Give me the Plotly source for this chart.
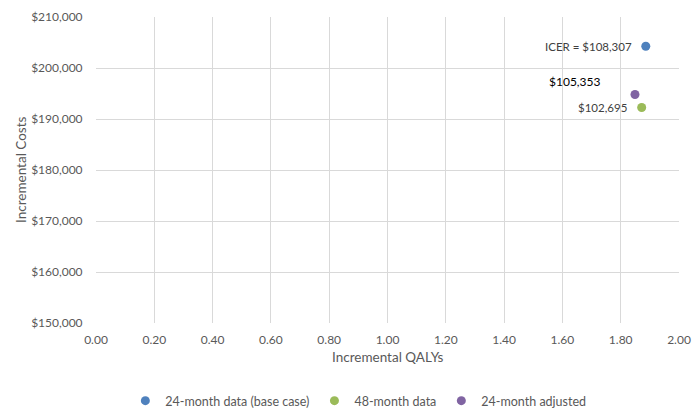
import plotly.graph_objects as go

# Incremental cost-effectiveness results for each scenario
series_names = ["24-month data (base case)", "48-month data", "24-month adjusted"]
qalys = [1.886, 1.872, 1.849]
costs = [204267, 192246, 194798]
icer_labels = ["ICER = $108,307", "$102,695", "$105,353"]
colors = ["#4F81BD", "#9BBB59", "#8064A2"]

x_ticks = [0.0, 0.2, 0.4, 0.6, 0.8, 1.0, 1.2, 1.4, 1.6, 1.8, 2.0]
y_ticks = [150000, 160000, 170000, 180000, 190000, 200000, 210000]

FONT = "Lato, Carlito, 'Open Sans', sans-serif"
GRID = "#d9d9d9"
TICK_COLOR = "#595959"

fig = go.Figure()
for name, xv, yv, col in zip(series_names, qalys, costs, colors):
    fig.add_trace(go.Scatter(
        x=[xv], y=[yv], mode="markers", name=name,
        marker=dict(color=col, size=9, line=dict(width=0)),
    ))

# Data labels: gray beside the base case and 48-month points, black above the adjusted point
label_style = [
    dict(xshift=-12, yshift=0, color="#404040", size=11.5),
    dict(xshift=-13, yshift=0, color="#404040", size=11.5),
    dict(xshift=-33, yshift=13, color="#000000", size=12),
]
for xv, yv, txt, st in zip(qalys, costs, icer_labels, label_style):
    fig.add_annotation(
        x=xv, y=yv, xref="x", yref="y", text=txt, showarrow=False,
        xanchor="right", yanchor="middle", xshift=st["xshift"], yshift=st["yshift"],
        font=dict(family=FONT, size=st["size"], color=st["color"]),
    )

# Axis titles
fig.add_annotation(
    x=0.5, y=-0.11, xref="paper", yref="paper", yanchor="middle", xanchor="center",
    text="Incremental QALYs", showarrow=False,
    font=dict(family=FONT, size=13.5, color=TICK_COLOR),
)
fig.add_annotation(
    x=0, y=0.5, xref="paper", yref="paper", xanchor="center", yanchor="middle",
    xshift=-75, text="Incremental Costs", showarrow=False, textangle=-90,
    font=dict(family=FONT, size=13.5, color=TICK_COLOR),
)

fig.update_layout(
    width=692, height=410,
    margin=dict(l=96, r=13, t=17, b=87, autoexpand=False),
    paper_bgcolor="white", plot_bgcolor="white",
    font=dict(family=FONT, size=12, color=TICK_COLOR),
    showlegend=True,
    legend=dict(
        orientation="h", x=0.45, xanchor="center", y=-0.255, yanchor="middle",
        font=dict(family=FONT, size=12.5, color=TICK_COLOR),
        itemwidth=30, tracegroupgap=0,
    ),
)
fig.update_xaxes(
    range=[0, 2], tickvals=x_ticks, ticktext=[f"{v:.2f}" for v in x_ticks],
    showgrid=True, gridcolor=GRID, gridwidth=1, zeroline=False,
    showline=False, ticks="outside", ticklen=6, tickcolor="rgba(0,0,0,0)",
    automargin=False,
    tickfont=dict(family=FONT, size=12, color=TICK_COLOR),
)
fig.update_yaxes(
    range=[150000, 210000], tickvals=y_ticks,
    ticktext=[f"${v:,.0f}" for v in y_ticks],
    showgrid=True, gridcolor=GRID, gridwidth=1, zeroline=False,
    showline=False, ticks="outside", ticklen=10, tickcolor="rgba(0,0,0,0)",
    automargin=False,
    tickfont=dict(family=FONT, size=12, color=TICK_COLOR),
)

fig.write_html("out.html")
